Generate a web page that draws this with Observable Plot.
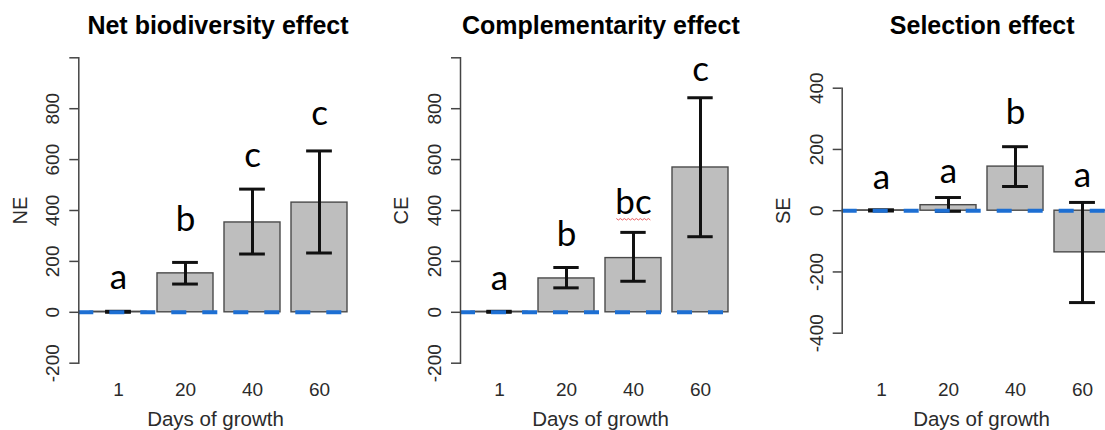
<!DOCTYPE html>
<html>
<head>
<meta charset="utf-8">
<script src="https://cdn.jsdelivr.net/npm/d3@7"></script>
<script src="https://cdn.jsdelivr.net/npm/@observablehq/plot@0.6"></script>
<style>
html, body { margin: 0; padding: 0; background: #fff; overflow: hidden; width: 1105px; height: 430px; }
#wrap { position: relative; width: 1105px; height: 430px; overflow: hidden; background: #fff; }
.panel { position: absolute; top: 0; }
.panel svg { overflow: visible; }
</style>
</head>
<body>
<div id="wrap"></div>
<script>
// ---------- data ----------
const days = ["1", "20", "40", "60"];
const xTitle = "Days of growth";

const neTitle = "Net biodiversity effect";
const neLabel = "NE";
const neMean = [2, 153, 353, 431];
const neLow = [0, 111, 229, 233];
const neHigh = [4, 196, 484, 634];
const neLetters = ["a", "b", "c", "c"];
const neLetterY = [93, 320, 571, 736];
const neTicks = [-200, 0, 200, 400, 600, 800, 1000];
const neTickLabels = ["-200", "0", "200", "400", "600", "800", ""];
const neDomain = [-200, 1000];

const ceTitle = "Complementarity effect";
const ceLabel = "CE";
const ceMean = [2, 133, 213, 569];
const ceLow = [0, 96, 122, 297];
const ceHigh = [4, 176, 314, 843];
const ceLetters = ["a", "b", "bc", "c"];
const ceLetterY = [88, 262, 386, 909];
const ceTicks = [-200, 0, 200, 400, 600, 800, 1000];
const ceTickLabels = ["-200", "0", "200", "400", "600", "800", ""];
const ceDomain = [-200, 1000];

const seTitle = "Selection effect";
const seLabel = "SE";
const seMean = [1, 18, 144, -136];
const seLow = [-1, -2, 79, -300];
const seHigh = [3, 43, 209, 27];
const seLetters = ["a", "a", "b", "a"];
const seLetterY = [71, 89, 283, 76];
const seTicks = [-400, -200, 0, 200, 400];
const seTickLabels = ["-400", "-200", "0", "200", "400"];
const seDomain = [-400, 400];

// ---------- layout ----------
const H = 430;
const layouts = [
  {left: 0,   width: 370, marginLeft: 78.3,  marginRight: 22.5, marginTop: 57.3, marginBottom: 67.3, xRange: [88.7, 347.5], titleX: 217.5, xTitleX: 215, yLabelX: 20},
  {left: 370, width: 370, marginLeft: 90,    marginRight: 10,   marginTop: 57.3, marginBottom: 67.3, xRange: [99.5, 360],   titleX: 230.3, xTitleX: 230, yLabelX: 31.5},
  {left: 740, width: 375, marginLeft: 101.7, marginRight: 4,    marginTop: 87.7, marginBottom: 97.3, xRange: [112.7, 371],  titleX: 241.7, xTitleX: 241, yLabelX: 43.3}
];

const panelsData = [
  {title: neTitle, label: neLabel, mean: neMean, low: neLow, high: neHigh, letters: neLetters, letterY: neLetterY, ticks: neTicks, tickLabels: neTickLabels, domain: neDomain},
  {title: ceTitle, label: ceLabel, mean: ceMean, low: ceLow, high: ceHigh, letters: ceLetters, letterY: ceLetterY, ticks: ceTicks, tickLabels: ceTickLabels, domain: ceDomain},
  {title: seTitle, label: seLabel, mean: seMean, low: seLow, high: seHigh, letters: seLetters, letterY: seLetterY, ticks: seTicks, tickLabels: seTickLabels, domain: seDomain}
];

const axisText = "#2b2b2b";
const pad = 0.167;

function makePanel(cfg, d) {
  const rows = days.map((day, i) => ({day, mean: d.mean[i], low: d.low[i], high: d.high[i], letter: d.letters[i], letterY: d.letterY[i]}));
  const tickRows = d.ticks.map((v, i) => ({v, label: d.tickLabels[i]}));
  const bottom = H - cfg.marginBottom;
  const step = (cfg.xRange[1] - cfg.xRange[0]) / (days.length - pad);
  const bw = step * (1 - pad);
  const inset = (bw - 26) / 2;
  const errStyle = {stroke: "#111", strokeWidth: 3};
  return Plot.plot({
    width: cfg.width,
    height: H,
    marginLeft: cfg.marginLeft,
    marginRight: cfg.marginRight,
    marginTop: cfg.marginTop,
    marginBottom: cfg.marginBottom,
    style: {fontFamily: "'Liberation Sans', Arial, sans-serif", fontSize: "19px", background: "white", overflow: "visible"},
    x: {domain: days, range: cfg.xRange, paddingInner: pad, paddingOuter: 0, axis: null},
    y: {domain: d.domain, axis: null},
    marks: [
      Plot.barY(rows, {x: "day", y1: 0, y2: "mean", fill: "#bebebe", stroke: "#4a4a4a", strokeWidth: 1.4}),
      Plot.ruleX(rows, {x: "day", y1: "low", y2: "high", ...errStyle}),
      Plot.tickY(rows, {x: "day", y: "high", insetLeft: inset, insetRight: inset, ...errStyle}),
      Plot.tickY(rows, {x: "day", y: "low", insetLeft: inset, insetRight: inset, ...errStyle}),
      Plot.ruleY([0], {stroke: "#1d6fd3", strokeWidth: 4, strokeDasharray: "15,16"}),
      Plot.frame({anchor: "left", stroke: "#444", strokeWidth: 1.5}),
      Plot.axisY({ticks: d.ticks, tickSize: 9, tickFormat: () => "", stroke: "#444", strokeWidth: 1.5}),
      Plot.text(tickRows, {y: "v", text: "label", frameAnchor: "left", dx: -25.6, rotate: -90, textAnchor: "middle", lineAnchor: "middle", fontSize: 19, fill: axisText}),
      Plot.text(days, {x: (v) => v, text: (v) => v, frameAnchor: "bottom", dy: 395 - bottom, lineAnchor: "bottom", fontSize: 19, fill: axisText}),
      Plot.text([xTitle], {frameAnchor: "bottom-left", dx: cfg.xTitleX - cfg.marginLeft, dy: 425 - bottom, lineAnchor: "bottom", textAnchor: "middle", fontSize: 20.5, fill: axisText}),
      Plot.text([d.label], {frameAnchor: "left", dx: cfg.yLabelX - cfg.marginLeft, rotate: -90, textAnchor: "middle", lineAnchor: "middle", fontSize: 20, fill: axisText}),
      Plot.text([d.title], {frameAnchor: "top-left", dx: cfg.titleX - cfg.marginLeft, dy: 33.3 - cfg.marginTop, lineAnchor: "bottom", textAnchor: "middle", fontSize: 25, fontWeight: "bold", fill: "#000"}),
      Plot.text(rows, {x: "day", y: "letterY", text: "letter", lineAnchor: "bottom", fontSize: 35, fontFamily: "Lato, 'Open Sans', sans-serif", fill: "#000"})
    ]
  });
}

const wrap = document.getElementById("wrap");
layouts.forEach((cfg, i) => {
  const div = document.createElement("div");
  div.className = "panel";
  div.style.left = cfg.left + "px";
  div.style.width = cfg.width + "px";
  const svg = makePanel(cfg, panelsData[i]);
  div.appendChild(svg);
  wrap.appendChild(div);
  // spell-check style red wavy underline seen under "bc", derived from the text's own box
  svg.querySelectorAll("text").forEach((t) => {
    if (t.textContent === "bc") {
      const sr = svg.getBoundingClientRect();
      const r = t.getBoundingClientRect();
      const x0 = r.left - sr.left + 1, x1 = r.right - sr.left - 1;
      const yb = r.top - sr.top + r.height * 0.82 + 5;
      let dstr = `M${x0},${yb}`;
      let k = 0;
      for (let x = x0 + 2; x <= x1; x += 2, k++) dstr += `L${x},${yb + (k % 2 === 0 ? 1.5 : -0)}`;
      const p = document.createElementNS("http://www.w3.org/2000/svg", "path");
      p.setAttribute("d", dstr);
      p.setAttribute("fill", "none");
      p.setAttribute("stroke", "#ec5a5c");
      p.setAttribute("stroke-width", "1");
      svg.appendChild(p);
    }
  });
});
</script>
</body>
</html>
